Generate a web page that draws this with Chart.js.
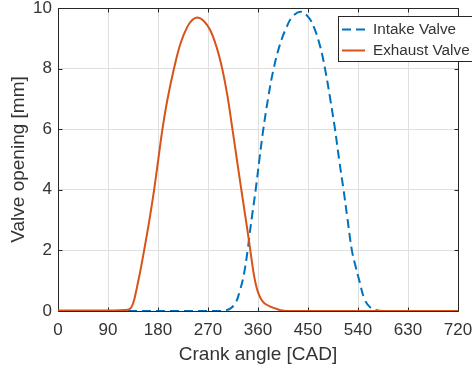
<!DOCTYPE html>
<html><head><meta charset="utf-8">
<script src="https://cdn.jsdelivr.net/npm/chart.js@4.4.1/dist/chart.umd.min.js"></script>
<style>html,body{margin:0;padding:0;background:#fff;overflow:hidden}canvas{display:block}</style>
</head><body>
<canvas id="c" width="472" height="372"></canvas>
<script>
const seriesNames = ['Intake Valve', 'Exhaust Valve'];
const intakeAngle = [0, 100, 200, 290, 300, 310, 320, 327, 334, 341.4, 344, 349, 355.8, 362.5, 369.6, 378, 387.6, 399.6, 411, 421, 436, 451, 461, 471.6, 480.6, 490, 498.6, 506, 514, 521, 529, 536, 542.4, 552, 562, 571, 585, 650, 720];
const intakeLift  = [0, 0, 0, 0, 0.02, 0.08, 0.28, 0.65, 1.15, 2.0, 2.4, 3.1, 4.0, 5.0, 6.0, 7.0, 7.95, 8.8, 9.35, 9.69, 9.88, 9.69, 9.35, 8.75, 8.0, 7.0, 6.0, 5.0, 4.0, 3.05, 2.0, 1.45, 1.0, 0.38, 0.12, 0.04, 0, 0, 0];
const exhaustAngle = [0, 50, 100, 120, 128, 132, 136, 140, 144, 148, 155, 164.5, 173, 180.5, 188, 197, 209.4, 220.5, 232.5, 242, 251, 262, 273.6, 285.6, 295.8, 305, 314, 322, 330, 337, 343.5, 351.6, 356, 360.6, 366, 372.6, 384.6, 395, 403, 410, 500, 600, 720];
const exhaustLift  = [0.02, 0.02, 0.02, 0.03, 0.05, 0.12, 0.3, 0.6, 0.95, 1.3, 2.0, 3.0, 4.0, 5.0, 6.0, 6.98, 8.05, 8.83, 9.37, 9.61, 9.69, 9.58, 9.28, 8.7, 7.98, 7.1, 6.0, 5.0, 4.0, 3.15, 2.35, 1.31, 0.88, 0.59, 0.38, 0.24, 0.13, 0.06, 0.02, 0, 0, 0, 0];
const xTickValues = [0, 90, 180, 270, 360, 450, 540, 630, 720];
const yTickValues = [0, 2, 4, 6, 8, 10];
const xTitle = 'Crank angle [CAD]';
const yTitle = 'Valve opening [mm]';

const axisColor = '#262626';
const textColor = '#333333';
const gridColor = '#dfdfdf';
const fontFamily = '"Liberation Sans", Arial, Helvetica, sans-serif';

const toPoints = (xs, ys) => xs.map((x, i) => ({x: x, y: ys[i]}));

const framePlugin = {
  id: 'frame',
  beforeDatasetsDraw(chart) {
    const {ctx, chartArea: a, scales: {x, y}} = chart;
    const L = Math.round(a.left) + 0.5, R = Math.round(a.right) + 0.5;
    const T = Math.round(a.top) + 0.5, B = Math.round(a.bottom) + 0.5;
    ctx.save();
    ctx.strokeStyle = axisColor;
    ctx.lineWidth = 1;
    ctx.beginPath();
    ctx.rect(L, T, R - L, B - T);
    const tl = 4;
    x.ticks.forEach(t => {
      const px = Math.round(x.getPixelForValue(t.value)) + 0.5;
      ctx.moveTo(px, B); ctx.lineTo(px, B - tl);
      ctx.moveTo(px, T); ctx.lineTo(px, T + tl);
    });
    y.ticks.forEach(t => {
      const py = Math.round(y.getPixelForValue(t.value)) + 0.5;
      ctx.moveTo(L, py); ctx.lineTo(L + tl, py);
      ctx.moveTo(R, py); ctx.lineTo(R - tl, py);
    });
    ctx.stroke();
    ctx.restore();
  },
  afterDraw(chart) {
    const {ctx} = chart;
    const bx = 338.5, by = 16.5, bw = 140, bh = 45;
    ctx.save();
    ctx.fillStyle = '#ffffff';
    ctx.fillRect(bx, by, bw, bh);
    ctx.strokeStyle = axisColor;
    ctx.lineWidth = 1;
    ctx.strokeRect(bx, by, bw, bh);
    const rows = [29.5, 50.5];
    ctx.font = '15.3px ' + fontFamily;
    ctx.textBaseline = 'middle';
    ctx.textAlign = 'left';
    chart.data.datasets.forEach((ds, i) => {
      const ry = rows[i];
      ctx.strokeStyle = ds.borderColor;
      ctx.lineWidth = ds.borderWidth;
      ctx.setLineDash(ds.borderDash || []);
      ctx.beginPath();
      ctx.moveTo(342, ry); ctx.lineTo(365, ry);
      ctx.stroke();
      ctx.setLineDash([]);
      ctx.fillStyle = textColor;
      ctx.fillText(ds.label, 373, ry + 0.5);
    });
    ctx.restore();
  }
};

new Chart(document.getElementById('c'), {
  type: 'line',
  data: {
    datasets: [
      {
        label: seriesNames[0],
        data: toPoints(intakeAngle, intakeLift),
        borderColor: '#0072BD',
        borderWidth: 2,
        borderDash: [9, 5],
        pointRadius: 0,
        tension: 0.4,
        fill: false,
        order: 1
      },
      {
        label: seriesNames[1],
        data: toPoints(exhaustAngle, exhaustLift),
        borderColor: '#D95319',
        borderWidth: 2,
        pointRadius: 0,
        tension: 0.4,
        fill: false,
        order: 0
      }
    ]
  },
  options: {
    responsive: false,
    animation: false,
    devicePixelRatio: 1,
    layout: {padding: {top: 8, right: 14, left: 0, bottom: 0}},
    plugins: {legend: {display: false}, tooltip: {enabled: false}},
    scales: {
      x: {
        type: 'linear',
        min: 0, max: 720,
        afterBuildTicks: s => { s.ticks = xTickValues.map(v => ({value: v})); },
        afterFit: s => { s.height = 61; s.paddingLeft = 0; s.paddingRight = 0; },
        grid: {color: gridColor, drawTicks: false},
        border: {display: false},
        ticks: {color: textColor, font: {family: fontFamily, size: 17}, padding: 9, maxRotation: 0, autoSkip: false},
        title: {display: true, text: xTitle, color: textColor, font: {family: fontFamily, size: 19}, padding: {top: 0, bottom: 6}}
      },
      y: {
        type: 'linear',
        min: 0, max: 10,
        afterBuildTicks: s => { s.ticks = yTickValues.map(v => ({value: v})); },
        afterFit: s => { s.width = 58; s.paddingTop = 0; s.paddingBottom = 0; },
        grid: {color: gridColor, drawTicks: false},
        border: {display: false},
        ticks: {color: textColor, font: {family: fontFamily, size: 17}, padding: 6, autoSkip: false},
        title: {display: true, text: yTitle, color: textColor, font: {family: fontFamily, size: 19}, padding: {top: 7, bottom: 0}}
      }
    }
  },
  plugins: [framePlugin]
});
</script>
</body></html>
